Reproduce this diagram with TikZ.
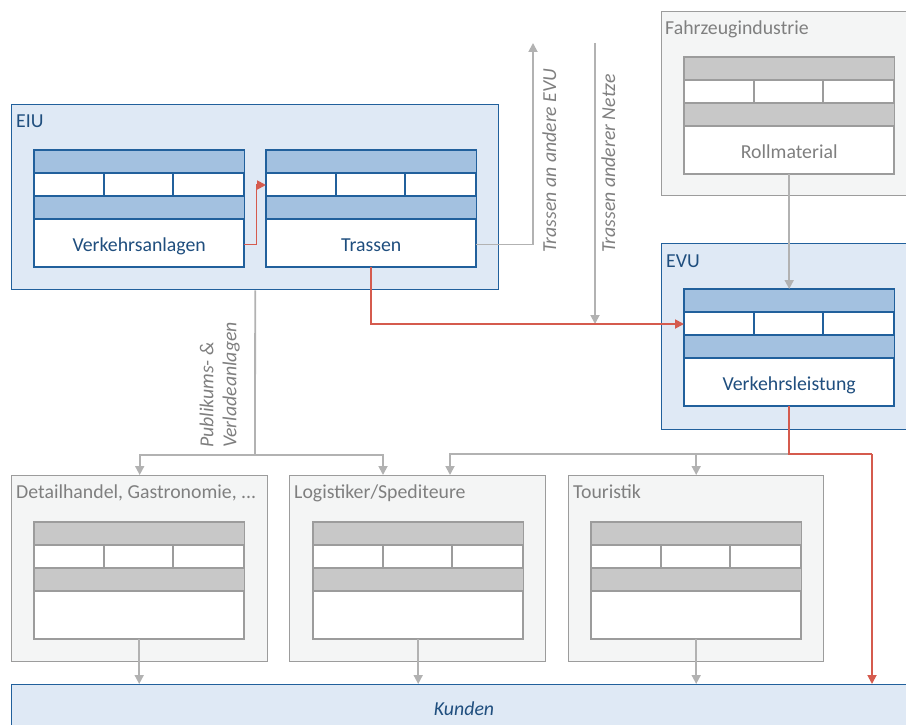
\documentclass[tikz,border=0pt]{standalone}
\usepackage{fontspec}
\setmainfont{Carlito}
\usetikzlibrary{arrows.meta,calc}

\definecolor{bluefill}{HTML}{DFE9F5}
\definecolor{blueline}{HTML}{21609C}
\definecolor{blueband}{HTML}{A3C1E0}
\definecolor{bluetext}{HTML}{1F4E7E}
\definecolor{grayfill}{HTML}{F4F5F5}
\definecolor{grayline}{HTML}{9C9C9C}
\definecolor{grayband}{HTML}{C8C8C8}
\definecolor{graytext}{HTML}{7F7F7F}
\definecolor{flowgray}{HTML}{B2B2B2}
\definecolor{flowred}{HTML}{D55B4E}

\tikzset{
  basefont/.style={font=\fontsize{19.8}{23}\selectfont},
  italicfont/.style={font=\fontsize{19.8}{23}\selectfont\itshape},
  groupbox/.style={draw=#1line, fill=#1fill, line width=1.4pt, rectangle,
    anchor=north west, inner sep=0pt},
  grouplabel/.style={basefont, text=#1text, anchor=base west, inner sep=0pt},
  cardframe/.style={draw=#1line, fill=white, line width=1.4pt, rectangle,
    anchor=north west, inner sep=0pt, minimum width=209pt, minimum height=116pt},
  cardtext/.style={basefont, text=#1text, inner sep=0pt, anchor=base},
  grayflow/.style={draw=flowgray, line width=1.8pt,
    -{Triangle[length=9pt,width=9pt]}},
  grayplain/.style={draw=flowgray, line width=1.8pt},
  redflow/.style={draw=flowred, line width=1.8pt,
    -{Triangle[length=9pt,width=9pt]}},
  redplain/.style={draw=flowred, line width=1.8pt},
  flowlabel/.style={italicfont, text=graytext, rotate=90, inner sep=0pt,
    align=left},
}

% card with two banded rows, a three-cell row and an open text field
\newcommand\card[4]{%
  \node[cardframe=#4] (#1) at (#2,#3) {};
  \fill[#4band] (#1.north west) rectangle ($(#1.north east)+(0,23)$);
  \fill[#4band] ($(#1.north west)+(0,46)$) rectangle ($(#1.north east)+(0,69)$);
  \draw[#4line, line width=1.4pt]
    ($(#1.north west)+(0,23)$) -- ($(#1.north east)+(0,23)$)
    ($(#1.north west)+(0,46)$) -- ($(#1.north east)+(0,46)$)
    ($(#1.north west)+(0,69)$) -- ($(#1.north east)+(0,69)$)
    ($(#1.north west)+(70,23)$) -- ($(#1.north west)+(70,46)$)
    ($(#1.north west)+(139,23)$) -- ($(#1.north west)+(139,46)$);
  \draw[#4line, line width=1.4pt] (#1.north west) rectangle (#1.south east);
}
\newcommand\cardlabel[3]{%
  \node[cardtext=#2] (#1-txt) at ($(#1.south)+(0,-16)$) {#3};
}

\begin{document}
\begin{tikzpicture}[x=1pt,y=-1pt]
  \useasboundingbox (0,0) rectangle (906,725);

  % group frames
  \node[groupbox=blue, minimum width=487pt, minimum height=185pt] (eiu) at (11,104) {};
  \node[groupbox=gray, minimum width=260pt, minimum height=184pt] (fzi) at (661,11) {};
  \node[groupbox=blue, minimum width=260pt, minimum height=186pt] (evu) at (661,243) {};
  \node[groupbox=gray, minimum width=256pt, minimum height=186pt] (dh) at (11,475) {};
  \node[groupbox=gray, minimum width=256pt, minimum height=186pt] (lg) at (289,475) {};
  \node[groupbox=gray, minimum width=255pt, minimum height=186pt] (tour) at (568,475) {};
  \node[groupbox=blue, minimum width=930pt, minimum height=60pt] (kunden) at (11,684) {};

  \node[grouplabel=blue] (eiu-lbl) at (16,128) {EIU};
  \node[grouplabel=gray] (fzi-lbl) at (665,35) {Fahrzeugindustrie};
  \node[grouplabel=blue] (evu-lbl) at (666,267) {EVU};
  \node[grouplabel=gray] (dh-lbl) at (16,498) {Detailhandel, Gastronomie, ...};
  \node[grouplabel=gray] (lg-lbl) at (294,498) {Logistiker/Spediteure};
  \node[grouplabel=gray] (tour-lbl) at (573,498) {Touristik};
  \node[italicfont, text=bluetext, anchor=base, inner sep=0pt]
    (kunden-lbl) at (464,715) {Kunden};

  % cards
  \card{va}{34}{150}{blue}   \cardlabel{va}{blue}{Verkehrsanlagen}
  \card{tr}{266}{150}{blue}  \cardlabel{tr}{blue}{Trassen}
  \card{rm}{684}{57}{gray}   \cardlabel{rm}{gray}{Rollmaterial}
  \card{vl}{684}{289}{blue}  \cardlabel{vl}{blue}{Verkehrsleistung}
  \card{dhc}{34}{522}{gray}
  \card{lgc}{313}{522}{gray}
  \card{tourc}{591}{522}{gray}

  % free ends and branch points
  \coordinate (toEVU) at (533,43);
  \coordinate (fromNetze) at (595,43);
  \coordinate (redjoin) at ($(vl.north west)+(0,35)$);
  \coordinate (split) at (255,455);
  \coordinate (redturn) at (872,454);

  % outgoing and incoming train paths
  \draw[grayflow] ($(tr.south east)+(0,-23)$) -| (toEVU);
  \node[flowlabel, anchor=base west] (toEVU-lbl) at (556,253) {Trassen an andere EVU};
  \draw[grayflow] (fromNetze) -- (fromNetze |- redjoin);
  \node[flowlabel, anchor=base west] (fromNetze-lbl) at (615,253) {Trassen anderer Netze};

  % red value chain
  \draw[redflow] ($(va.south east)+(0,-23)$) -- ++(12,0) |- ($(tr.north west)+(0,35)$);
  \draw[redflow] (tr.south) |- (redjoin);
  \draw[grayflow] (rm.south) -- (vl.north);

  % facilities towards the service providers
  \draw[grayplain] (eiu.south) -- (split);
  \draw[grayflow] (split) -| (dh.north);
  \draw[grayflow] (split) -| ($(lg.north west)+(94,0)$);
  \node[flowlabel, anchor=south west] (pv-lbl) at (240,448) {Publikums- \&\\Verladeanlagen};
  \draw[grayflow] (vl.south |- redturn) -| ($(lg.north west)+(161,0)$);
  \draw[grayflow] (vl.south |- redturn) -| (tour.north);
  \draw[redplain] (vl.south) |- (redturn);
  \draw[redflow] (redturn) -- (redturn |- kunden.north);

  % services to the customers
  \draw[grayflow] (dhc.south) -- (dhc.south |- kunden.north);
  \draw[grayflow] (lgc.south) -- (lgc.south |- kunden.north);
  \draw[grayflow] (tourc.south) -- (tourc.south |- kunden.north);
\end{tikzpicture}
\end{document}
